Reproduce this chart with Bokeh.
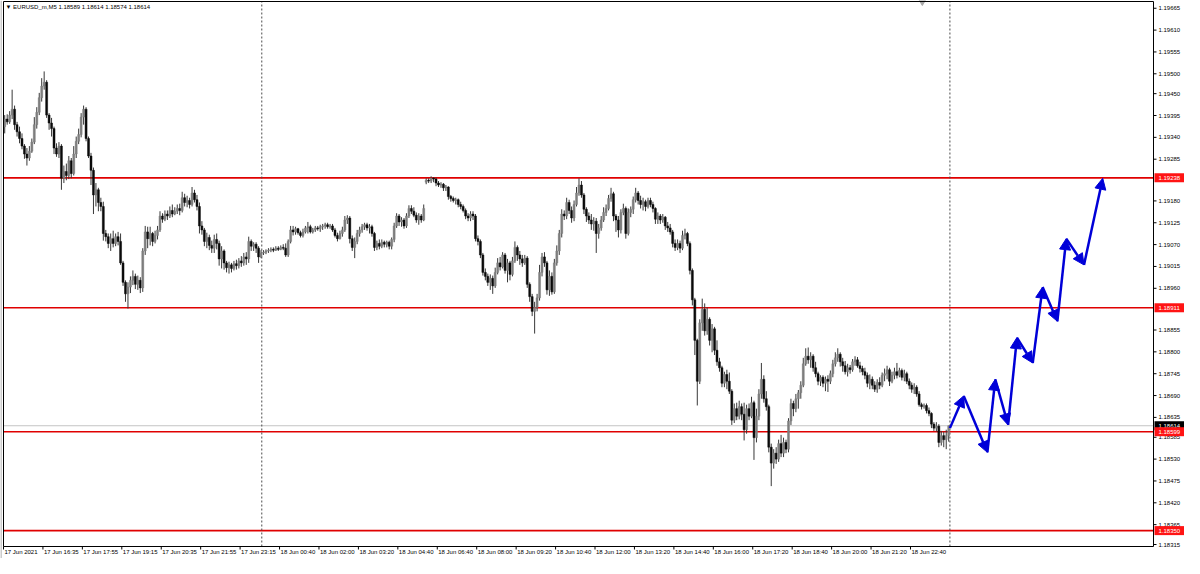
import numpy as np
from bokeh.plotting import figure
from bokeh.models import ColumnDataSource, Range1d, Arrow, NormalHead
from bokeh.core.properties import value
from bokeh.embed import file_html
from bokeh.resources import INLINE

TITLE_TEXT = "\u25bc EURUSD_m,M5  1.18589 1.18614 1.18574 1.18614"

OPEN = [
1.19367, 1.19386, 1.19379, 1.19396, 1.19411, 1.19372, 1.19354, 1.19337, 1.19318, 1.19298,
1.19288, 1.19305, 1.19328, 1.19372, 1.19403, 1.19440, 1.19469, 1.19479, 1.19396, 1.19376,
1.19362, 1.19313, 1.19298, 1.19318, 1.19237, 1.19254, 1.19244, 1.19281, 1.19249, 1.19298,
1.19330, 1.19347, 1.19391, 1.19411, 1.19337, 1.19293, 1.19257, 1.19195, 1.19208, 1.19176,
1.19166, 1.19098, 1.19090, 1.19073, 1.19085, 1.19073, 1.19090, 1.19078, 1.19024, 1.18975,
1.18946, 1.18963, 1.18980, 1.18990, 1.18970, 1.18980, 1.18961, 1.19054, 1.19102, 1.19085,
1.19098, 1.19078, 1.19093, 1.19107, 1.19142, 1.19134, 1.19147, 1.19142, 1.19156, 1.19147,
1.19154, 1.19161, 1.19156, 1.19188, 1.19176, 1.19181, 1.19171, 1.19200, 1.19183, 1.19166,
1.19117, 1.19107, 1.19078, 1.19088, 1.19068, 1.19061, 1.19083, 1.19073, 1.19034, 1.19054,
1.19024, 1.19012, 1.19019, 1.19010, 1.19022, 1.19017, 1.19029, 1.19024, 1.19039, 1.19034,
1.19078, 1.19066, 1.19071, 1.19061, 1.19039, 1.19049, 1.19051, 1.19054, 1.19056, 1.19058,
1.19056, 1.19061, 1.19058, 1.19063, 1.19061, 1.19044, 1.19078, 1.19107, 1.19102, 1.19110,
1.19100, 1.19093, 1.19102, 1.19112, 1.19115, 1.19102, 1.19107, 1.19112, 1.19110, 1.19115,
1.19117, 1.19120, 1.19115, 1.19117, 1.19107, 1.19093, 1.19085, 1.19098, 1.19107, 1.19132,
1.19137, 1.19085, 1.19063, 1.19078, 1.19098, 1.19107, 1.19115, 1.19120, 1.19112, 1.19115,
1.19098, 1.19063, 1.19073, 1.19066, 1.19076, 1.19071, 1.19076, 1.19066, 1.19083, 1.19117,
1.19142, 1.19127, 1.19132, 1.19117, 1.19142, 1.19161, 1.19154, 1.19144, 1.19132, 1.19142,
1.19132, 1.19227, 1.19232, 1.19230, 1.19237, 1.19235, 1.19225, 1.19220, 1.19222, 1.19213,
1.19215, 1.19191, 1.19186, 1.19181, 1.19183, 1.19171, 1.19166, 1.19156, 1.19142, 1.19137,
1.19147, 1.19142, 1.19085, 1.19078, 1.19044, 1.19000, 1.18990, 1.18975, 1.18985, 1.18966,
1.19000, 1.19024, 1.19014, 1.19044, 1.19005, 1.19024, 1.18995, 1.19029, 1.19063, 1.19044,
1.19034, 1.19024, 1.19036, 1.18970, 1.18939, 1.18902, 1.18912, 1.18936, 1.19000, 1.19039,
1.19024, 1.18956, 1.18990, 1.18951, 1.19024, 1.19054, 1.19098, 1.19147, 1.19142, 1.19176,
1.19156, 1.19137, 1.19171, 1.19200, 1.19220, 1.19195, 1.19159, 1.19142, 1.19132, 1.19122,
1.19129, 1.19098, 1.19112, 1.19132, 1.19151, 1.19161, 1.19186, 1.19198, 1.19142, 1.19132,
1.19107, 1.19151, 1.19161, 1.19098, 1.19151, 1.19159, 1.19183, 1.19200, 1.19181, 1.19171,
1.19178, 1.19166, 1.19181, 1.19171, 1.19161, 1.19134, 1.19142, 1.19132, 1.19139, 1.19117,
1.19112, 1.19102, 1.19073, 1.19063, 1.19073, 1.19061, 1.19093, 1.19098, 1.19073, 1.19005,
1.18931, 1.18829, 1.18726, 1.18873, 1.18907, 1.18853, 1.18882, 1.18829, 1.18858, 1.18804,
1.18775, 1.18760, 1.18721, 1.18743, 1.18726, 1.18701, 1.18628, 1.18657, 1.18638, 1.18662,
1.18643, 1.18604, 1.18657, 1.18638, 1.18672, 1.18584, 1.18638, 1.18694, 1.18731, 1.18682,
1.18662, 1.18560, 1.18520, 1.18545, 1.18530, 1.18569, 1.18545, 1.18572, 1.18555, 1.18626,
1.18670, 1.18657, 1.18682, 1.18697, 1.18716, 1.18770, 1.18789, 1.18780, 1.18789, 1.18760,
1.18745, 1.18726, 1.18736, 1.18721, 1.18731, 1.18726, 1.18745, 1.18770, 1.18785, 1.18794,
1.18775, 1.18765, 1.18750, 1.18760, 1.18755, 1.18775, 1.18780, 1.18765, 1.18758, 1.18750,
1.18741, 1.18721, 1.18731, 1.18716, 1.18706, 1.18723, 1.18716, 1.18741, 1.18745, 1.18755,
1.18726, 1.18741, 1.18750, 1.18741, 1.18753, 1.18736, 1.18745, 1.18726, 1.18716, 1.18706,
1.18711, 1.18694, 1.18667, 1.18662, 1.18665, 1.18652, 1.18645, 1.18618, 1.18608, 1.18613,
1.18572, 1.18589, 1.18579, 1.18589,
]

HIGH = [
1.19396, 1.19398, 1.19406, 1.19460, 1.19420, 1.19379, 1.19367, 1.19350, 1.19323, 1.19313,
1.19318, 1.19337, 1.19391, 1.19416, 1.19452, 1.19489, 1.19506, 1.19484, 1.19401, 1.19389,
1.19367, 1.19325, 1.19328, 1.19323, 1.19269, 1.19274, 1.19293, 1.19288, 1.19318, 1.19342,
1.19362, 1.19401, 1.19420, 1.19416, 1.19342, 1.19301, 1.19264, 1.19225, 1.19213, 1.19188,
1.19178, 1.19107, 1.19098, 1.19098, 1.19105, 1.19098, 1.19102, 1.19098, 1.19029, 1.18980,
1.18975, 1.18990, 1.19005, 1.18997, 1.18992, 1.18988, 1.19061, 1.19117, 1.19115, 1.19115,
1.19102, 1.19105, 1.19117, 1.19154, 1.19149, 1.19156, 1.19156, 1.19166, 1.19171, 1.19164,
1.19171, 1.19173, 1.19203, 1.19198, 1.19193, 1.19188, 1.19215, 1.19208, 1.19195, 1.19176,
1.19129, 1.19112, 1.19100, 1.19095, 1.19080, 1.19095, 1.19098, 1.19080, 1.19066, 1.19058,
1.19029, 1.19027, 1.19024, 1.19029, 1.19032, 1.19036, 1.19041, 1.19049, 1.19051, 1.19090,
1.19083, 1.19076, 1.19076, 1.19066, 1.19056, 1.19056, 1.19058, 1.19061, 1.19063, 1.19063,
1.19066, 1.19066, 1.19068, 1.19071, 1.19073, 1.19083, 1.19117, 1.19117, 1.19115, 1.19112,
1.19105, 1.19110, 1.19117, 1.19127, 1.19120, 1.19112, 1.19117, 1.19117, 1.19120, 1.19122,
1.19125, 1.19125, 1.19122, 1.19122, 1.19112, 1.19100, 1.19105, 1.19115, 1.19142, 1.19144,
1.19142, 1.19093, 1.19088, 1.19107, 1.19115, 1.19122, 1.19125, 1.19125, 1.19122, 1.19120,
1.19102, 1.19080, 1.19083, 1.19083, 1.19080, 1.19080, 1.19080, 1.19088, 1.19125, 1.19149,
1.19147, 1.19139, 1.19137, 1.19149, 1.19169, 1.19169, 1.19164, 1.19151, 1.19149, 1.19147,
1.19171, 1.19237, 1.19237, 1.19242, 1.19240, 1.19239, 1.19230, 1.19227, 1.19225, 1.19220,
1.19217, 1.19195, 1.19191, 1.19188, 1.19186, 1.19178, 1.19171, 1.19161, 1.19149, 1.19154,
1.19154, 1.19147, 1.19093, 1.19083, 1.19049, 1.19010, 1.18997, 1.18995, 1.18992, 1.19012,
1.19036, 1.19039, 1.19051, 1.19049, 1.19034, 1.19029, 1.19039, 1.19078, 1.19068, 1.19054,
1.19044, 1.19044, 1.19041, 1.18975, 1.18946, 1.18926, 1.18946, 1.19019, 1.19049, 1.19051,
1.19029, 1.19005, 1.19000, 1.19034, 1.19068, 1.19107, 1.19159, 1.19156, 1.19188, 1.19183,
1.19166, 1.19181, 1.19215, 1.19237, 1.19230, 1.19200, 1.19164, 1.19151, 1.19147, 1.19139,
1.19137, 1.19122, 1.19142, 1.19164, 1.19171, 1.19195, 1.19213, 1.19203, 1.19147, 1.19142,
1.19159, 1.19173, 1.19166, 1.19161, 1.19166, 1.19191, 1.19213, 1.19205, 1.19193, 1.19188,
1.19183, 1.19188, 1.19188, 1.19178, 1.19164, 1.19151, 1.19147, 1.19147, 1.19142, 1.19127,
1.19122, 1.19107, 1.19083, 1.19083, 1.19080, 1.19105, 1.19110, 1.19102, 1.19078, 1.19010,
1.18936, 1.18833, 1.18882, 1.18934, 1.18922, 1.18912, 1.18887, 1.18870, 1.18863, 1.18829,
1.18785, 1.18765, 1.18750, 1.18755, 1.18748, 1.18706, 1.18670, 1.18672, 1.18677, 1.18670,
1.18672, 1.18667, 1.18670, 1.18687, 1.18677, 1.18657, 1.18706, 1.18772, 1.18741, 1.18701,
1.18667, 1.18569, 1.18555, 1.18560, 1.18579, 1.18591, 1.18584, 1.18579, 1.18633, 1.18682,
1.18677, 1.18694, 1.18704, 1.18726, 1.18785, 1.18809, 1.18811, 1.18799, 1.18794, 1.18775,
1.18750, 1.18741, 1.18741, 1.18738, 1.18741, 1.18753, 1.18780, 1.18799, 1.18809, 1.18799,
1.18785, 1.18777, 1.18770, 1.18767, 1.18782, 1.18789, 1.18787, 1.18775, 1.18765, 1.18760,
1.18748, 1.18743, 1.18738, 1.18726, 1.18731, 1.18736, 1.18748, 1.18758, 1.18765, 1.18760,
1.18750, 1.18760, 1.18772, 1.18760, 1.18758, 1.18755, 1.18750, 1.18733, 1.18723, 1.18721,
1.18716, 1.18701, 1.18672, 1.18670, 1.18670, 1.18660, 1.18648, 1.18623, 1.18623, 1.18618,
1.18601, 1.18599, 1.18604, 1.18614,
]

LOW = [
1.19350, 1.19372, 1.19374, 1.19386, 1.19359, 1.19342, 1.19325, 1.19310, 1.19286, 1.19269,
1.19281, 1.19301, 1.19323, 1.19362, 1.19396, 1.19430, 1.19460, 1.19389, 1.19359, 1.19342,
1.19298, 1.19291, 1.19288, 1.19208, 1.19225, 1.19232, 1.19235, 1.19237, 1.19244, 1.19288,
1.19323, 1.19340, 1.19372, 1.19330, 1.19288, 1.19220, 1.19147, 1.19166, 1.19154, 1.19154,
1.19080, 1.19078, 1.19061, 1.19054, 1.19063, 1.19066, 1.19068, 1.19019, 1.18966, 1.18926,
1.18909, 1.18948, 1.18968, 1.18958, 1.18956, 1.18948, 1.18951, 1.19044, 1.19061, 1.19068,
1.19066, 1.19073, 1.19083, 1.19102, 1.19125, 1.19129, 1.19132, 1.19137, 1.19139, 1.19144,
1.19147, 1.19144, 1.19151, 1.19166, 1.19164, 1.19161, 1.19166, 1.19176, 1.19156, 1.19098,
1.19095, 1.19066, 1.19061, 1.19056, 1.19049, 1.19049, 1.19058, 1.19017, 1.19010, 1.19007,
1.19000, 1.18997, 1.19000, 1.19005, 1.19007, 1.19010, 1.19014, 1.19017, 1.19019, 1.19024,
1.19054, 1.19054, 1.19049, 1.19024, 1.19036, 1.19044, 1.19046, 1.19049, 1.19051, 1.19051,
1.19054, 1.19054, 1.19056, 1.19056, 1.19039, 1.19039, 1.19073, 1.19093, 1.19095, 1.19095,
1.19088, 1.19088, 1.19098, 1.19098, 1.19098, 1.19098, 1.19102, 1.19105, 1.19102, 1.19107,
1.19110, 1.19110, 1.19110, 1.19102, 1.19088, 1.19078, 1.19083, 1.19090, 1.19102, 1.19122,
1.19073, 1.19054, 1.19036, 1.19071, 1.19090, 1.19100, 1.19107, 1.19105, 1.19098, 1.19090,
1.19054, 1.19056, 1.19058, 1.19061, 1.19063, 1.19063, 1.19058, 1.19058, 1.19076, 1.19112,
1.19117, 1.19115, 1.19110, 1.19112, 1.19137, 1.19147, 1.19139, 1.19125, 1.19120, 1.19125,
1.19129, 1.19222, 1.19225, 1.19225, 1.19227, 1.19217, 1.19215, 1.19213, 1.19205, 1.19205,
1.19183, 1.19178, 1.19176, 1.19171, 1.19164, 1.19159, 1.19151, 1.19134, 1.19129, 1.19129,
1.19132, 1.19078, 1.19068, 1.19036, 1.18992, 1.18980, 1.18966, 1.18956, 1.18946, 1.18961,
1.18995, 1.19005, 1.19010, 1.18997, 1.18975, 1.18980, 1.18990, 1.19024, 1.19029, 1.19019,
1.19014, 1.19019, 1.18961, 1.18926, 1.18890, 1.18846, 1.18902, 1.18929, 1.18990, 1.19014,
1.18944, 1.18941, 1.18944, 1.18946, 1.19017, 1.19044, 1.19088, 1.19132, 1.19134, 1.19147,
1.19125, 1.19129, 1.19166, 1.19193, 1.19188, 1.19147, 1.19127, 1.19122, 1.19107, 1.19105,
1.19049, 1.19085, 1.19105, 1.19127, 1.19142, 1.19156, 1.19178, 1.19129, 1.19102, 1.19088,
1.19098, 1.19144, 1.19085, 1.19093, 1.19139, 1.19147, 1.19176, 1.19171, 1.19161, 1.19156,
1.19154, 1.19161, 1.19164, 1.19151, 1.19122, 1.19122, 1.19122, 1.19125, 1.19107, 1.19102,
1.19095, 1.19063, 1.19054, 1.19056, 1.19049, 1.19056, 1.19083, 1.19066, 1.18995, 1.18917,
1.18792, 1.18665, 1.18719, 1.18853, 1.18841, 1.18843, 1.18816, 1.18799, 1.18792, 1.18765,
1.18750, 1.18711, 1.18711, 1.18706, 1.18694, 1.18616, 1.18621, 1.18628, 1.18630, 1.18628,
1.18577, 1.18594, 1.18628, 1.18633, 1.18528, 1.18572, 1.18628, 1.18682, 1.18672, 1.18652,
1.18547, 1.18462, 1.18506, 1.18518, 1.18523, 1.18535, 1.18535, 1.18545, 1.18547, 1.18616,
1.18638, 1.18648, 1.18657, 1.18682, 1.18711, 1.18765, 1.18770, 1.18760, 1.18750, 1.18736,
1.18716, 1.18714, 1.18711, 1.18701, 1.18699, 1.18719, 1.18736, 1.18763, 1.18775, 1.18763,
1.18750, 1.18743, 1.18738, 1.18745, 1.18750, 1.18765, 1.18760, 1.18748, 1.18741, 1.18731,
1.18711, 1.18706, 1.18706, 1.18699, 1.18697, 1.18706, 1.18711, 1.18726, 1.18731, 1.18714,
1.18721, 1.18731, 1.18733, 1.18736, 1.18728, 1.18726, 1.18719, 1.18706, 1.18697, 1.18694,
1.18687, 1.18662, 1.18655, 1.18657, 1.18645, 1.18638, 1.18608, 1.18601, 1.18599, 1.18560,
1.18564, 1.18560, 1.18555, 1.18574,
]

CLOSE = [
1.19386, 1.19379, 1.19396, 1.19411, 1.19372, 1.19354, 1.19337, 1.19318, 1.19298, 1.19288,
1.19305, 1.19328, 1.19372, 1.19403, 1.19440, 1.19469, 1.19479, 1.19396, 1.19376, 1.19362,
1.19313, 1.19298, 1.19318, 1.19237, 1.19254, 1.19244, 1.19281, 1.19249, 1.19298, 1.19330,
1.19347, 1.19391, 1.19411, 1.19337, 1.19293, 1.19257, 1.19195, 1.19208, 1.19176, 1.19166,
1.19098, 1.19090, 1.19073, 1.19085, 1.19073, 1.19090, 1.19078, 1.19024, 1.18975, 1.18946,
1.18963, 1.18980, 1.18990, 1.18970, 1.18980, 1.18961, 1.19054, 1.19102, 1.19085, 1.19098,
1.19078, 1.19093, 1.19107, 1.19142, 1.19134, 1.19147, 1.19142, 1.19156, 1.19147, 1.19154,
1.19161, 1.19156, 1.19188, 1.19176, 1.19181, 1.19171, 1.19200, 1.19183, 1.19166, 1.19117,
1.19107, 1.19078, 1.19088, 1.19068, 1.19061, 1.19083, 1.19073, 1.19034, 1.19054, 1.19024,
1.19012, 1.19019, 1.19010, 1.19022, 1.19017, 1.19029, 1.19024, 1.19039, 1.19034, 1.19078,
1.19066, 1.19071, 1.19061, 1.19039, 1.19049, 1.19051, 1.19054, 1.19056, 1.19058, 1.19056,
1.19061, 1.19058, 1.19063, 1.19061, 1.19044, 1.19078, 1.19107, 1.19102, 1.19110, 1.19100,
1.19093, 1.19102, 1.19112, 1.19115, 1.19102, 1.19107, 1.19112, 1.19110, 1.19115, 1.19117,
1.19120, 1.19115, 1.19117, 1.19107, 1.19093, 1.19085, 1.19098, 1.19107, 1.19132, 1.19137,
1.19085, 1.19063, 1.19078, 1.19098, 1.19107, 1.19115, 1.19120, 1.19112, 1.19115, 1.19098,
1.19063, 1.19073, 1.19066, 1.19076, 1.19071, 1.19076, 1.19066, 1.19083, 1.19117, 1.19142,
1.19127, 1.19132, 1.19117, 1.19142, 1.19161, 1.19154, 1.19144, 1.19132, 1.19142, 1.19132,
1.19161, 1.19232, 1.19230, 1.19237, 1.19235, 1.19225, 1.19220, 1.19222, 1.19213, 1.19215,
1.19191, 1.19186, 1.19181, 1.19183, 1.19171, 1.19166, 1.19156, 1.19142, 1.19137, 1.19147,
1.19142, 1.19085, 1.19078, 1.19044, 1.19000, 1.18990, 1.18975, 1.18985, 1.18966, 1.19000,
1.19024, 1.19014, 1.19044, 1.19005, 1.19024, 1.18995, 1.19029, 1.19063, 1.19044, 1.19034,
1.19024, 1.19036, 1.18970, 1.18939, 1.18902, 1.18912, 1.18936, 1.19000, 1.19039, 1.19024,
1.18956, 1.18990, 1.18951, 1.19024, 1.19054, 1.19098, 1.19147, 1.19142, 1.19176, 1.19156,
1.19137, 1.19171, 1.19200, 1.19220, 1.19195, 1.19159, 1.19142, 1.19132, 1.19122, 1.19129,
1.19098, 1.19112, 1.19132, 1.19151, 1.19161, 1.19186, 1.19198, 1.19142, 1.19132, 1.19107,
1.19151, 1.19161, 1.19098, 1.19151, 1.19159, 1.19183, 1.19200, 1.19181, 1.19171, 1.19178,
1.19166, 1.19181, 1.19171, 1.19161, 1.19134, 1.19142, 1.19132, 1.19139, 1.19117, 1.19112,
1.19102, 1.19073, 1.19063, 1.19073, 1.19061, 1.19093, 1.19098, 1.19073, 1.19005, 1.18931,
1.18829, 1.18726, 1.18873, 1.18907, 1.18853, 1.18882, 1.18829, 1.18858, 1.18804, 1.18775,
1.18760, 1.18721, 1.18743, 1.18726, 1.18701, 1.18628, 1.18657, 1.18638, 1.18662, 1.18643,
1.18604, 1.18657, 1.18638, 1.18672, 1.18584, 1.18638, 1.18694, 1.18731, 1.18682, 1.18662,
1.18560, 1.18520, 1.18545, 1.18530, 1.18569, 1.18545, 1.18572, 1.18555, 1.18626, 1.18670,
1.18657, 1.18682, 1.18697, 1.18716, 1.18770, 1.18789, 1.18780, 1.18789, 1.18760, 1.18745,
1.18726, 1.18736, 1.18721, 1.18731, 1.18726, 1.18745, 1.18770, 1.18785, 1.18794, 1.18775,
1.18765, 1.18750, 1.18760, 1.18755, 1.18775, 1.18780, 1.18765, 1.18758, 1.18750, 1.18741,
1.18721, 1.18731, 1.18716, 1.18706, 1.18723, 1.18716, 1.18741, 1.18745, 1.18755, 1.18726,
1.18741, 1.18750, 1.18741, 1.18753, 1.18736, 1.18745, 1.18726, 1.18716, 1.18706, 1.18711,
1.18694, 1.18667, 1.18662, 1.18665, 1.18652, 1.18645, 1.18618, 1.18608, 1.18613, 1.18572,
1.18589, 1.18579, 1.18589, 1.18614,
]

TIME_LABEL_BARS = [0, 16, 32, 48, 64, 80, 96, 112, 128, 144, 160, 176,
                   192, 208, 224, 240, 256, 272, 288, 304, 320, 336, 352, 368]
TIME_LABELS = ["17 Jun 2021", "17 Jun 16:35", "17 Jun 17:55", "17 Jun 19:15",
               "17 Jun 20:35", "17 Jun 21:55", "17 Jun 23:15", "18 Jun 00:40",
               "18 Jun 02:00", "18 Jun 03:20", "18 Jun 04:40", "18 Jun 06:40",
               "18 Jun 08:00", "18 Jun 09:20", "18 Jun 10:40", "18 Jun 12:00",
               "18 Jun 13:20", "18 Jun 14:40", "18 Jun 16:00", "18 Jun 17:20",
               "18 Jun 18:40", "18 Jun 20:00", "18 Jun 21:20", "18 Jun 22:40"]
DAY_SEPARATOR_BARS = [104.8, 384]

PRICE_TICKS = [1.19665, 1.19610, 1.19555, 1.19500, 1.19450, 1.19395, 1.19340, 1.19285,
               1.19180, 1.19125, 1.19070, 1.19015, 1.18960, 1.18855, 1.18800,
               1.18745, 1.18690, 1.18635, 1.18585, 1.18530, 1.18475, 1.18420, 1.18365, 1.18315]
LEVELS = [1.19238, 1.18911, 1.18599, 1.18350]
BID = 1.18614

PATH_BARS = [384.0, 389.6, 399.2, 402.4, 407.6, 411.2, 417.6, 421.6, 427.6, 431.2, 438.4, 446.0]
PATH_PRICES = [1.18608, 1.18689, 1.18547, 1.18731, 1.18616, 1.18836, 1.18772,
               1.18963, 1.18877, 1.19085, 1.19019, 1.19237]
SHIFT_MARK_BAR = 372.8

# ---------------------------------------------------------------- geometry / styling
CANVAS_W, CANVAS_H = 1184, 558
LEFT_PX, TOP_PX, SCALE_PX, TIME_PX = 3, 1, 31, 12
CHART_W = CANVAS_W - LEFT_PX - SCALE_PX
CHART_H = CANVAS_H - TOP_PX - TIME_PX
X_START, X_END = 0.0, 466.6
Y_BOTTOM, Y_TOP = 1.18310, 1.19682
PXB = CHART_W / (X_END - X_START)      # pixels per bar
PXP = CHART_H / (Y_TOP - Y_BOTTOM)     # pixels per price unit
dx = lambda px: px / PXB
dy = lambda px: px / PXP

FONT = value("Liberation Sans")
FS = value("6px")
BLUE = "#0000d8"
RED = "#e00000"
BOX_RED = "#ff1414"

p = figure(frame_width=CANVAS_W, frame_height=CANVAS_H,
           x_range=Range1d(X_START - dx(LEFT_PX), X_END + dx(SCALE_PX)),
           y_range=Range1d(Y_BOTTOM - dy(TIME_PX), Y_TOP + dy(TOP_PX)),
           x_axis_location=None, y_axis_location=None, min_border=0,
           output_backend="svg", toolbar_location=None,
           background_fill_color="white", border_fill_color="white",
           outline_line_color=None)
p.xgrid.visible = False
p.ygrid.visible = False

# horizontal bid line, level lines, day separators
p.segment(x0=[X_START], x1=[X_END], y0=[BID], y1=[BID], line_color="#c4c4c4", line_width=1)
p.segment(x0=[X_START] * len(LEVELS), x1=[X_END] * len(LEVELS), y0=LEVELS, y1=LEVELS,
          line_color=RED, line_width=1.6)
p.segment(x0=DAY_SEPARATOR_BARS, x1=DAY_SEPARATOR_BARS,
          y0=[Y_BOTTOM] * len(DAY_SEPARATOR_BARS), y1=[Y_TOP] * len(DAY_SEPARATOR_BARS),
          line_color="#4a4a4a", line_width=1, line_dash="2 2")

# candles
o = np.array(OPEN); h = np.array(HIGH); l = np.array(LOW); c = np.array(CLOSE)
xs = np.arange(len(CLOSE)) + 0.5
bull = c >= o
src = ColumnDataSource(dict(
    x=xs, high=h, low=l, top=np.maximum(o, c), bottom=np.minimum(o, c),
    color=np.where(bull, "#7e7e7e", "#0a0a0a"),
))
p.segment(x0="x", y0="low", x1="x", y1="high", source=src, line_color="#383838", line_width=1)
p.vbar(x="x", top="top", bottom="bottom", width=0.8, source=src,
       fill_color="color", line_color="color", line_width=0.5)

# forecast path
asrc = ColumnDataSource(dict(x0=PATH_BARS[:-1], y0=PATH_PRICES[:-1],
                             x1=PATH_BARS[1:], y1=PATH_PRICES[1:]))
p.add_layout(Arrow(x_start="x0", y_start="y0", x_end="x1", y_end="y1", source=asrc,
                   line_color=BLUE, line_width=2.5,
                   end=NormalHead(size=11, fill_color=BLUE, line_color=BLUE, line_width=1)))

# chart shift marker
p.scatter([SHIFT_MARK_BAR], [Y_TOP], marker="inverted_triangle", size=7,
          fill_color="#a8a8a8", line_color="#a8a8a8")

# chart frame and outer window edge
p.quad(left=[X_START], right=[X_END], top=[Y_TOP], bottom=[Y_BOTTOM],
       fill_color=None, line_color="#000000", line_width=1)
p.segment(x0=[X_START - dx(2.5)], x1=[X_START - dx(2.5)],
          y0=[Y_BOTTOM - dy(TIME_PX)], y1=[Y_TOP + dy(TOP_PX)], line_color="#9a9a9a", line_width=1)

# title
p.text(x=[X_START + dx(2)], y=[Y_TOP - dy(2.5)], text=[TITLE_TEXT], text_font=FONT,
       text_font_size=FS, text_color="#000000", text_baseline="top", text_align="left")

# price scale: tick marks + labels
p.segment(x0=[X_END] * len(PRICE_TICKS), x1=[X_END + dx(3)] * len(PRICE_TICKS),
          y0=PRICE_TICKS, y1=PRICE_TICKS, line_color="#000000", line_width=1)
p.text(x=[X_END + dx(5)] * len(PRICE_TICKS), y=PRICE_TICKS,
       text=[f"{t:.5f}" for t in PRICE_TICKS], text_font=FONT, text_font_size=FS,
       text_color="#000000", text_baseline="middle", text_align="left")

# time scale: tick marks + labels
p.segment(x0=TIME_LABEL_BARS, x1=TIME_LABEL_BARS,
          y0=[Y_BOTTOM] * len(TIME_LABEL_BARS), y1=[Y_BOTTOM - dy(3)] * len(TIME_LABEL_BARS),
          line_color="#000000", line_width=1)
p.text(x=[b + dx(1) for b in TIME_LABEL_BARS], y=[Y_BOTTOM - dy(2.5)] * len(TIME_LABEL_BARS),
       text=TIME_LABELS, text_font=FONT, text_font_size=FS, text_color="#000000",
       text_baseline="top", text_align="left")

# price boxes on the scale (bid first, levels on top)
def price_box(price, fill):
    p.quad(left=[X_END + dx(1)], right=[X_END + dx(SCALE_PX)],
           top=[price + dy(4.5)], bottom=[price - dy(4.5)],
           fill_color=fill, line_color=None)
    p.text(x=[X_END + dx(5)], y=[price], text=[f"{price:.5f}"], text_font=FONT,
           text_font_size=FS, text_color="#ffffff", text_baseline="middle", text_align="left")

price_box(BID, "#000000")
for lv in LEVELS:
    price_box(lv, BOX_RED)

open("out.html", "w").write(file_html(p, INLINE))
